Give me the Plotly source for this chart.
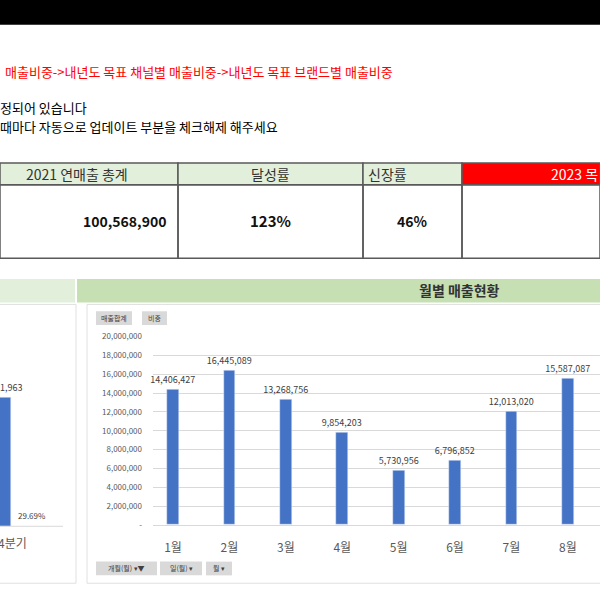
import plotly.graph_objects as go

months = ["1월", "2월", "3월", "4월", "5월", "6월", "7월", "8월"]
sales = [14406427, 16445089, 13268756, 9854203, 5730956, 6796852, 12013020, 15587087]
q_label = "4분기"
q_value = 29861963
q_share = "29.69%"
y_ticks = [0, 2e6, 4e6, 6e6, 8e6, 10e6, 12e6, 14e6, 16e6, 18e6, 20e6]
y_tick_text = ["-"] + [f"{int(v):,}" for v in y_ticks[1:]]
headers = ["2021 연매출 총계", "달성률", "신장률", "2023 목"]
values = ["100,568,900", "123%", "46%", ""]

F = "Noto Sans CJK KR"
W = H = 600
def px(x): return x / W
def py(y): return 1 - y / H

fig = go.Figure()
xs = list(range(len(months)))
fig.add_bar(x=xs, y=sales, marker_color="#4472C4", width=0.21,
            text=[f"{v:,}" for v in sales], textposition="outside", constraintext="none",
            textfont=dict(size=9, color="#404040", family=F), cliponaxis=False,
            xaxis="x", yaxis="y")
fig.add_bar(x=[-0.3], y=[q_value], marker_color="#4472C4", width=0.8,
            xaxis="x2", yaxis="y2")

shapes, ann = [], []
def rect(x0, y0, x1, y1, fill="rgba(0,0,0,0)", line=None, lw=1):
    shapes.append(dict(type="rect", xref="paper", yref="paper", x0=px(x0), x1=px(x1),
                       y0=py(y1), y1=py(y0), fillcolor=fill,
                       line=dict(color=line or "rgba(0,0,0,0)", width=lw), layer="below"))
def text(x, y, t, size=11, color="#000", anchor="left", bold=False):
    ann.append(dict(xref="paper", yref="paper", x=px(x), y=py(y), text=f"<b>{t}</b>" if bold else t,
                    showarrow=False, xanchor=anchor, yanchor="middle",
                    font=dict(size=size, color=color, family=F)))

rect(0, -10, 600, 19, fill="#000000")
text(3, 67, "매출비중->내년도 목표 채널별 매출비중->내년도 목표 브랜드별 매출비중", 13, "#FF0000")
text(-2, 103, "정되어 있습니다", 13, "#000")
text(-2, 123, "때마다 자동으로 업데이트 부분을 체크해제 해주세요", 13, "#000")

cols = [0, 178, 363, 462, 600]
for i in range(4):
    rect(cols[i], 160, cols[i+1], 182, fill="#FF0000" if i == 3 else "#E2EFDA", line="#595959", lw=1.5)
    rect(cols[i], 182, cols[i+1], 257, line="#595959", lw=1.5)
text(77, 171, headers[0], 14, "#333", "center")
text(270, 171, headers[1], 14, "#333", "center")
text(366, 171, headers[2], 14, "#333", "left")
text(600, 171, headers[3], 14, "#fff", "right")
text(168, 219, values[0], 14, "#111", "right", True)
text(270, 219, values[1], 15, "#111", "center", True)
text(412, 219, values[2], 14, "#111", "center", True)

rect(0, 278, 75, 302, fill="#E2EFDA")
rect(77, 278, 600, 302, fill="#C6E0B4")
text(459, 289, "월별 매출현황", 14, "#333", "center", True)
rect(-2, 304, 76, 588, fill="#fff", line="#E0E0E0")
rect(87, 304, 602, 588, fill="#fff", line="#E0E0E0")
for x0, x1, t in [(96, 132, "매출합계"), (142, 167, "비중")]:
    rect(x0, 311, x1, 325, fill="#D9D9D9")
    text((x0+x1)/2, 318, t, 7, "#404040", "center")
for x0, x1, t in [(96, 157, "개월(월) ▾▼"), (160, 202, "일(월) ▾"), (206, 232, "월 ▾")]:
    rect(x0, 566, x1, 580, fill="#D9D9D9")
    text((x0+x1)/2, 573, t, 7, "#404040", "center")
text(-2, 389, "1,963", 9, "#404040")
text(16, 519, q_share, 8, "#404040")
text(12, 547, q_label, 12, "#595959", "center")
shapes.append(dict(type="line", xref="paper", yref="paper", x0=0, x1=px(63), y0=py(530), y1=py(530),
                   line=dict(color="#D9D9D9", width=1)))

fig.update_layout(
    width=W, height=H, margin=dict(l=0, r=0, t=0, b=0), showlegend=False,
    plot_bgcolor="rgba(0,0,0,0)", paper_bgcolor="#fff", bargap=0,
    shapes=shapes, annotations=ann, font=dict(family=F),
    xaxis=dict(domain=[px(153), 1], range=[-0.355, 7.57], tickvals=xs, ticktext=months,
               showgrid=False, zeroline=False, showline=True, linecolor="#D9D9D9",
               tickfont=dict(size=12, color="#595959"), ticks="", ticklabelstandoff=12),
    yaxis=dict(domain=[py(528.7), py(336.7)], range=[0, 20e6], tickvals=y_ticks, ticktext=y_tick_text,
               gridcolor="#D9D9D9", zeroline=False, tickfont=dict(size=8, color="#595959"),
               ticklabelstandoff=10),
    xaxis2=dict(domain=[0, px(63)], range=[-0.1, 1], visible=False, anchor="y2"),
    yaxis2=dict(domain=[py(530), py(300)], range=[0, 52.4e6], visible=False, anchor="x2"),
)
fig.write_html("out.html", config={"displayModeBar": False},
               post_script="document.body.style.margin='0';document.body.style.overflow='hidden';")
